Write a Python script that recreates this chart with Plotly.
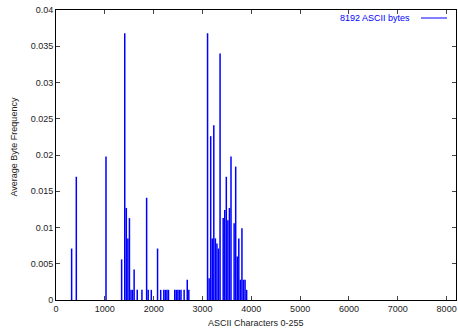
import plotly.graph_objects as go

# ASCII codes present and their average frequency
char_codes = [10, 13, 32, 42, 44, 45, 46, 47, 48, 49, 50, 52, 55, 58, 59, 61,
              65, 67, 69, 70, 71, 72, 76, 77, 78, 79, 80, 82, 84, 85,
              97, 98, 99, 100, 101, 102, 103, 104, 105, 107, 108, 109, 110,
              111, 112, 114, 115, 116, 117, 118, 119, 120, 121, 122]
freq = [0.0071, 0.0170, 0.0198, 0.0056, 0.0368, 0.0127, 0.0085, 0.0113, 0.0014, 0.0014,
        0.0042, 0.0014, 0.0014, 0.0141, 0.0014, 0.0014,
        0.0071, 0.0014, 0.0014, 0.0014, 0.0014, 0.0014, 0.0014, 0.0014, 0.0014, 0.0014,
        0.0014, 0.0014, 0.0028, 0.0014,
        0.0368, 0.0030, 0.0226, 0.0085, 0.0241, 0.0085, 0.0078, 0.0071, 0.0340, 0.0113,
        0.0124, 0.0170, 0.0110, 0.0127, 0.0198, 0.0106, 0.0184, 0.0060, 0.0085, 0.0028,
        0.0099, 0.0028, 0.0028, 0.0014]
bytes_per_char = 32  # 8192 / 256
series_name = "8192 ASCII bytes"
x_ticks = [0, 1000, 2000, 3000, 4000, 5000, 6000, 7000, 8000]
y_ticks = [0, 0.005, 0.01, 0.015, 0.02, 0.025, 0.03, 0.035, 0.04]
y_tick_text = ["0", "0.005", "0.01", "0.015", "0.02", "0.025", "0.03", "0.035", "0.04"]

xs, ys = [], []
for c, v in zip(char_codes, freq):
    x = c * bytes_per_char
    xs += [x, x, None]
    ys += [0, v, None]

FONT = "Liberation Sans, Arial, sans-serif"
BLUE = "#0000ff"

fig = go.Figure()
fig.add_trace(go.Scatter(x=xs, y=ys, mode="lines", line=dict(color=BLUE, width=1.5),
                         name=series_name, showlegend=False, hoverinfo="skip"))

axis_common = dict(showline=True, linecolor="black", linewidth=1, mirror="ticks",
                   ticks="inside", ticklen=4, tickcolor="#444", tickwidth=1,
                   showgrid=False, zeroline=False,
                   tickfont=dict(family=FONT, size=9, color="#222"))

fig.update_layout(
    width=458, height=332,
    margin=dict(l=56, r=2, t=10, b=32),
    paper_bgcolor="white", plot_bgcolor="white",
    xaxis=dict(range=[0, 8192], tickvals=x_ticks, ticktext=[str(t) for t in x_ticks], **axis_common),
    yaxis=dict(range=[0, 0.04], tickvals=y_ticks, ticktext=y_tick_text, **axis_common),
    showlegend=False,
)

fig.add_annotation(text="ASCII Characters 0-255", xref="paper", yref="paper", x=0.5, y=0,
                   yshift=-23, yanchor="middle", showarrow=False,
                   font=dict(family=FONT, size=9, color="#222"))
fig.add_annotation(text="Average Byte Frequency", xref="paper", yref="paper", x=0, y=0.5,
                   xshift=-42.5, yshift=8, textangle=-90, xanchor="center", yanchor="middle",
                   showarrow=False, font=dict(family=FONT, size=9, color="#222"))
# legend key (gnuplot style: text then line sample)
fig.add_annotation(text=series_name, xref="paper", yref="paper", x=1, y=1,
                   xshift=-44, yshift=-8, xanchor="right", yanchor="middle", showarrow=False,
                   font=dict(family=FONT, size=9, color=BLUE))
fig.add_shape(type="line", xref="paper", yref="paper", xsizemode="pixel", ysizemode="pixel",
              xanchor=1, yanchor=1, x0=-35, x1=-9, y0=-8, y1=-8,
              line=dict(color=BLUE, width=1))

fig.write_html("out.html")
